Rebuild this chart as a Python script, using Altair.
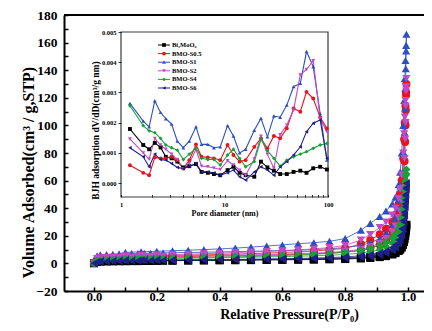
import altair as alt
import pandas as pd

FONT = "Liberation Serif"

series = ["Bi₂MoO₆", "BMO-S0.5", "BMO-S1", "BMO-S2", "BMO-S4", "BMO-S6"]
colors = ["#000000", "#e8141c", "#2e4fbf", "#c04bc8", "#16a134", "#1f1f8a"]
shapes = ["square", "circle", "triangle-up", "triangle-down", "diamond", "triangle-left"]

# ---- main isotherm: relative pressure grid (adsorption, then desorption) ----
p_ads = [0.0, 0.01, 0.02, 0.04, 0.06, 0.08, 0.10, 0.12, 0.14, 0.16, 0.18, 0.20, 0.22, 0.25,
         0.30, 0.35, 0.40, 0.45, 0.50, 0.55, 0.60, 0.65, 0.70, 0.75, 0.80, 0.85, 0.88, 0.91,
         0.93, 0.95, 0.96, 0.97, 0.975, 0.98, 0.984, 0.987, 0.989, 0.991, 0.992, 0.993, 0.994, 0.995]
p_des = [0.994, 0.992, 0.99, 0.988, 0.985, 0.98, 0.975, 0.97, 0.96, 0.95, 0.93, 0.91, 0.88, 0.85,
         0.80, 0.75, 0.70, 0.65, 0.60, 0.55, 0.50, 0.45, 0.40, 0.35, 0.30, 0.25, 0.20, 0.15, 0.10]

ads_bi = [0.1, 1.0, 1.3, 1.4, 1.5, 1.6, 1.6, 1.7, 1.7, 1.8, 1.8, 1.9, 1.9, 2.0, 2.1, 2.2, 2.3, 2.3,
          2.4, 2.5, 2.6, 2.7, 2.8, 3.0, 3.2, 3.6, 4.0, 4.6, 5.3, 6.5, 7.5, 9.0, 10, 11.5, 13.5, 15.5,
          17.5, 20, 22, 24, 26, 28]
des_bi = [26.5, 23.5, 21, 18.5, 16, 13, 11, 9.8, 8.2, 7.2, 6.0, 5.2, 4.5, 4.0, 3.5, 3.2, 3.0, 2.9,
          2.8, 2.7, 2.6, 2.5, 2.4, 2.3, 2.2, 2.1, 2.0, 1.9, 1.8]
ads_s05 = [0.3, 3.0, 3.5, 3.7, 3.9, 4.0, 4.1, 4.2, 4.3, 4.4, 4.5, 4.6, 4.7, 4.8, 5.0, 5.2, 5.4, 5.6,
           5.8, 6.0, 6.3, 6.6, 7.0, 7.5, 8.2, 9.5, 11, 13.5, 16.5, 21, 25, 31, 36, 43, 52, 62, 74,
           88, 100, 111, 122, 130]
des_s05 = [124, 114, 102, 90, 76, 60, 50, 43, 35, 30, 25, 21, 17, 14, 11, 9.8, 9.0, 8.4, 7.9, 7.5,
           7.1, 6.8, 6.5, 6.2, 6.0, 5.8, 5.6, 5.4, 5.2]
ads_s1 = [0.5, 5.5, 6.2, 6.5, 6.7, 6.9, 7.0, 7.1, 7.2, 7.3, 7.4, 7.5, 7.6, 7.7, 7.9, 8.1, 8.3, 8.5,
          8.8, 9.0, 9.3, 9.6, 10.0, 10.6, 11.5, 13.0, 15.0, 18.0, 22.0, 28.0, 33.0, 40.0, 46, 55, 66,
          80, 95, 112, 127, 141, 154, 166]
des_s1 = [158, 147, 134, 118, 100, 80, 66, 57, 48, 43, 38, 34, 29, 24, 18, 16, 15, 14.3, 13.4, 12.6,
          11.8, 11.1, 10.5, 10.0, 9.6, 9.2, 8.8, 8.4, 8.0]
ads_s2 = [0.3, 3.5, 4.0, 4.2, 4.4, 4.5, 4.6, 4.7, 4.8, 4.9, 5.0, 5.1, 5.2, 5.3, 5.5, 5.7, 5.9, 6.1,
          6.3, 6.5, 6.8, 7.1, 7.5, 8.0, 8.8, 10.2, 12, 14.5, 18, 23, 27, 33, 38, 45, 54, 64, 76, 90,
          102, 114, 125, 134]
des_s2 = [128, 118, 106, 94, 80, 64, 54, 47, 40, 35, 30, 26, 21, 17, 13, 11.5, 10.5, 9.8, 9.2, 8.7,
          8.2, 7.8, 7.4, 7.0, 6.7, 6.4, 6.1, 5.8, 5.5]
ads_s4 = [0.2, 2.0, 2.4, 2.6, 2.7, 2.8, 2.9, 3.0, 3.1, 3.2, 3.3, 3.4, 3.5, 3.6, 3.8, 3.9, 4.1, 4.3,
          4.5, 4.7, 4.9, 5.2, 5.5, 5.9, 6.5, 7.5, 8.5, 10, 12, 15, 17.5, 21, 24, 28, 33, 38, 44, 50,
          55, 60, 64, 68]
des_s4 = [65, 59, 53, 47, 40, 33, 28, 25, 21, 18.5, 15.5, 13, 11, 9.5, 8.0, 7.2, 6.6, 6.1, 5.7, 5.4,
          5.1, 4.8, 4.6, 4.4, 4.2, 4.0, 3.8, 3.6, 3.4]
ads_s6 = [0.1, 1.2, 1.5, 1.6, 1.7, 1.8, 1.9, 1.9, 2.0, 2.1, 2.1, 2.2, 2.3, 2.3, 2.4, 2.5, 2.6, 2.7,
          2.8, 2.9, 3.0, 3.2, 3.4, 3.6, 4.0, 4.6, 5.2, 6.2, 7.5, 9.5, 11.5, 14.5, 17, 20.5, 25, 30,
          35, 41, 46, 50, 54, 58]
des_s6 = [55, 49, 43, 37, 31, 25, 20, 17, 13.5, 11.5, 9.0, 7.5, 6.3, 5.5, 4.7, 4.2, 3.9, 3.6, 3.4,
          3.2, 3.0, 2.9, 2.8, 2.7, 2.6, 2.5, 2.4, 2.3, 2.2]

# ---- inset: BJH pore size distribution ----
pore_d = [1.22, 1.64, 1.87, 2.12, 2.41, 2.71, 3.08, 3.5, 4.0, 4.57, 5.3, 6.0, 6.9, 7.9, 9.1, 10.7,
          12.2, 14.0, 16.0, 19.4, 22.5, 26.0, 30.0, 34.5, 40.0, 46.5, 54.0, 62.0, 72.0, 84.0, 97.5]
psd_bi = [0.00179, 0.00126, 0.00112, 0.00133, 0.00118, 0.00087, 0.00082, 0.00071, 0.00052, 0.00056,
          0.00063, 0.00037, 0.00034, 0.00030, 0.00026, 0.00043, 0.00054, 0.00034, 0.00026, 0.00021,
          0.00071, 0.00052, 0.00041, 0.00030, 0.00030, 0.00037, 0.00041, 0.00034, 0.00049, 0.00054,
          0.00045]
psd_s05 = [0.00059, 0.00034, 0.00026, 0.00085, 0.00082, 0.00082, 0.00087, 0.00076, 0.00048, 0.00076,
           0.00128, 0.00087, 0.00085, 0.00082, 0.00076, 0.00126, 0.00093, 0.00071, 0.00076, 0.00120,
           0.00148, 0.00115, 0.00156, 0.00148, 0.00181, 0.00247, 0.00236, 0.00302, 0.00280, 0.00218,
           0.00181]
psd_s1 = [0.00264, 0.00205, 0.00186, 0.00272, 0.00234, 0.00213, 0.00195, 0.00139, 0.00117, 0.00139,
          0.00186, 0.00128, 0.00128, 0.00117, 0.00120, 0.00190, 0.00156, 0.00100, 0.00112, 0.00175,
          0.00214, 0.00153, 0.00222, 0.00218, 0.00258, 0.00319, 0.00330, 0.00435, 0.00385, 0.00230,
          0.00076]
psd_s2 = [0.00146, 0.00100, 0.00079, 0.00148, 0.00126, 0.00112, 0.00096, 0.00078, 0.00046, 0.00065,
          0.00112, 0.00056, 0.00054, 0.00050, 0.00045, 0.00074, 0.00060, 0.00043, 0.00026, 0.00080,
          0.00155, 0.00095, 0.00049, 0.00160, 0.00192, 0.00242, 0.00358, 0.00376, 0.00405, 0.00214,
          0.00170]
psd_s4 = [0.00256, 0.00190, 0.00173, 0.00167, 0.00148, 0.00126, 0.00117, 0.00109, 0.00078, 0.00096,
          0.00115, 0.00082, 0.00078, 0.00078, 0.00060, 0.00093, 0.00112, 0.00082, 0.00054, 0.00071,
          0.00145, 0.00107, 0.00082, 0.00056, 0.00076, 0.00087, 0.00096, 0.00104, 0.00115, 0.00126,
          0.00131]
psd_s6 = [0.00117, 0.00087, 0.00054, 0.00096, 0.00078, 0.00076, 0.00065, 0.00052, 0.00048, 0.00056,
          0.00065, 0.00037, 0.00037, 0.00034, 0.00026, 0.00034, 0.00043, 0.00021, 0.00010, 0.00037,
          0.00054, 0.00043, 0.00026, 0.00054, 0.00071, 0.00093, 0.00120, 0.00170, 0.00198, 0.00209,
          0.00082]

x_ticks = [0.0, 0.1, 0.2, 0.3, 0.4, 0.5, 0.6, 0.7, 0.8, 0.9, 1.0]
y_ticks = [-20, -10, 0, 10, 20, 30, 40, 50, 60, 70, 80, 90, 100, 110, 120, 130, 140, 150, 160, 170, 180]
inset_x_ticks = [1, 2, 3, 4, 5, 6, 7, 8, 9, 10, 20, 30, 40, 50, 60, 70, 80, 90, 100]
inset_y_ticks = [0.0, 0.001, 0.002, 0.003, 0.004, 0.005]

# ---- build tables ----
ads_lists = [ads_bi, ads_s05, ads_s1, ads_s2, ads_s4, ads_s6]
des_lists = [des_bi, des_s05, des_s1, des_s2, des_s4, des_s6]
psd_lists = [psd_bi, psd_s05, psd_s1, psd_s2, psd_s4, psd_s6]

rows = []
for s, a, d in zip(series, ads_lists, des_lists):
    pts = list(zip(p_ads, a)) + list(zip(p_des, d))
    for i, (p, v) in enumerate(pts):
        rows.append({"series": s, "P": p, "V": v, "order": i})
iso = pd.DataFrame(rows)

rows = []
for s, vals in zip(series, psd_lists):
    for i, (dd, v) in enumerate(zip(pore_d, vals)):
        rows.append({"series": s, "D": dd, "dV": v, "order": i})
psd = pd.DataFrame(rows)

leg = pd.DataFrame({"series": series})
one = pd.DataFrame({"a": [0]})

W, H = 360, 276
IX0, IX1, IY0, IY1 = 57, 264, 17, 182

color = alt.Color("series:N", scale=alt.Scale(domain=series, range=colors), legend=None)
shape = alt.Shape("series:N", scale=alt.Scale(domain=series, range=shapes), legend=None)

# ---- main chart ----
mx = alt.X("P:Q", scale=alt.Scale(domain=[-0.0955, 1.051], nice=False, zero=False),
           axis=alt.Axis(values=x_ticks, format=".1f",
                         labelExpr="round(datum.value*10) % 2 == 0 ? datum.label : ''",
                         tickSize={"expr": "-4"}, labelPadding=3, labelFontSize=12.5,
                         labelFlush=False, labelOverlap=False, domainWidth=2, tickWidth=1.5,
                         title="Relative Pressure(P/P₀)", titleFontSize=14, titleX=225, titleY=27,
                         titleBaseline="alphabetic", zindex=1))
my = alt.Y("V:Q", scale=alt.Scale(domain=[-20, 180], nice=False, zero=False),
           axis=alt.Axis(values=y_ticks, labelExpr="datum.value % 20 == 0 ? datum.label : ''",
                         tickSize={"expr": "-4"}, labelPadding=11, labelFontSize=13.5,
                         labelFlush=False, labelOverlap=False, domainWidth=2, tickWidth=1.5,
                         title="Volume Adsorbed(cm³ / g,STP)", titleFontSize=16, titleX=-31,
                         titleY=157, titleBaseline="alphabetic", zindex=1))

main_lines = alt.Chart(iso).mark_line(strokeWidth=0.8).encode(
    x=mx, y=my, color=color, detail="series:N", order="order:Q")
main_points = alt.Chart(iso).mark_point(filled=True, size=66, opacity=1).encode(
    x=mx, y=my, color=color, shape=shape)
top_line = alt.Chart(one).mark_rule(color="black", strokeWidth=2).encode(
    x=alt.value(0), x2=alt.value(W), y=alt.value(0))
main = alt.layer(main_lines, main_points, top_line)

# ---- inset ----
ix = alt.X("D:Q", scale=alt.Scale(type="log", domain=[1, 100], range=[IX0, IX1], nice=False),
           axis=alt.Axis(orient="bottom", offset=IY1 - H, values=inset_x_ticks,
                         labelExpr="datum.value == 1 || datum.value == 10 || datum.value == 100 ? format(datum.value, 'd') : ''",
                         tickSize={"expr": "-2.5"}, tickWidth=0.8, labelPadding=6.5, labelFontSize=6.5,
                         labelFlush=False, labelOverlap=False, domain=False,
                         title="Pore diameter (nm)", titleFontSize=8, titleY=18,
                         titleBaseline="alphabetic", zindex=1))
iy = alt.Y("dV:Q", scale=alt.Scale(domain=[-0.00046, 0.005], range=[IY1, IY0], nice=False, zero=False),
           axis=alt.Axis(orient="left", offset=-IX0, values=inset_y_ticks, format=".3f",
                         tickSize=3, tickWidth=0.8, labelPadding=2, labelFontSize=6.5,
                         labelFlush=False, labelOverlap=False, domain=False,
                         title="BJH adsorption dV/dD(cm³/g nm)", titleFontSize=9.5,
                         titleX=-23, titleY=115, titleBaseline="alphabetic", zindex=1))

frame = alt.Chart(one).mark_rect(fill="white", stroke="#3a3a3a", strokeWidth=1.2).encode(
    x=alt.value(IX0), x2=alt.value(IX1), y=alt.value(IY0), y2=alt.value(IY1))
in_lines = alt.Chart(psd).mark_line(strokeWidth=1.1).encode(
    x=ix, y=iy, color=color, detail="series:N", order="order:Q")
in_points = alt.Chart(psd).mark_point(filled=True, size=15, opacity=1).encode(
    x=ix, y=iy, color=color, shape=shape)
inset = alt.layer(frame, in_lines, in_points)

# ---- inset legend ----
ly = alt.Y("series:N", scale=alt.Scale(type="point", domain=series, range=[30, 73], padding=0), axis=None)
leg_rule = alt.Chart(leg).mark_rule(strokeWidth=1).encode(
    y=ly, x=alt.value(94), x2=alt.value(106), color=color)
leg_pt = alt.Chart(leg).mark_point(filled=True, size=14, opacity=1).encode(
    y=ly, x=alt.value(100), color=color, shape=shape)
leg_txt = alt.Chart(leg).mark_text(align="left", baseline="middle", font=FONT, fontSize=6.5,
                                   fontWeight="bold", color="black").encode(
    y=ly, x=alt.value(108), text="series:N")
legend = alt.layer(leg_rule, leg_pt, leg_txt)

chart = alt.layer(main, inset, legend).resolve_scale(
    x="independent", y="independent"
).properties(
    width=W, height=H,
    autosize=alt.AutoSizeParams(type="none"),
    padding={"left": 56, "top": 7, "right": 0, "bottom": 31},
).configure_view(stroke=None).configure_axis(
    grid=False, labelFont=FONT, titleFont=FONT, labelFontWeight="bold", titleFontWeight="bold",
    domainColor="black", tickColor="black", labelColor="black", titleColor="black",
)

chart.save("out.html", embed_options={"renderer": "svg", "actions": False})
